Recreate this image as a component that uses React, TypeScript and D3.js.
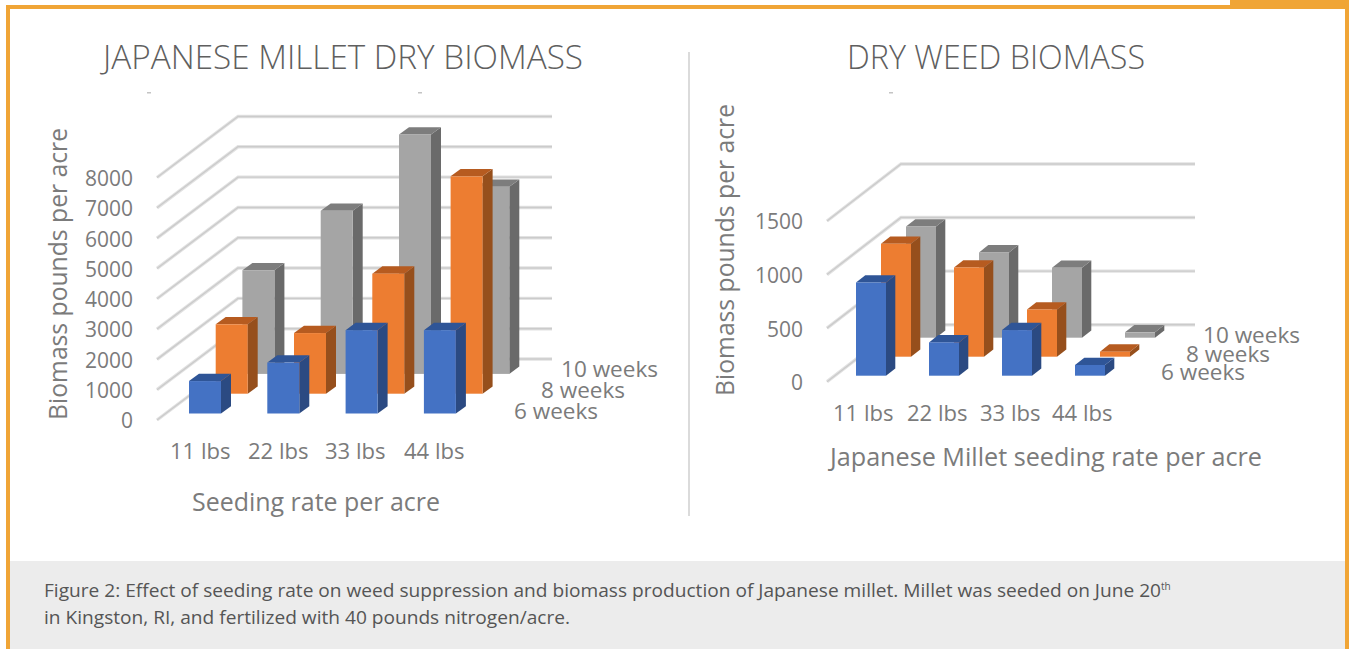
import * as d3 from 'd3';

const SERIES = ['6 weeks', '8 weeks', '10 weeks'];
const RATES = ['11 lbs', '22 lbs', '33 lbs', '44 lbs'];

const MILLET_6 = [1070, 1680, 2750, 2750];
const MILLET_8 = [2290, 2000, 3960, 7170];
const MILLET_10 = [3420, 5380, 7900, 6170];
const MILLET_TICKS = [0, 1000, 2000, 3000, 4000, 5000, 6000, 7000, 8000];

const WEED_6 = [870, 311, 426, 100];
const WEED_8 = [1054, 833, 441, 47];
const WEED_10 = [1038, 796, 653, 50];
const WEED_TICKS = [0, 500, 1000, 1500];

const CAPTION_1 = 'Figure 2: Effect of seeding rate on weed suppression and biomass production of Japanese millet. Millet was seeded on June 20';
const CAPTION_2 = 'in Kingston, RI, and fertilized with 40 pounds nitrogen/acre.';

const FACES = [
  { front: '#4472c4', side: '#2b4a82', top: '#2f5597' },
  { front: '#ed7d31', side: '#964f1c', top: '#b65b20' },
  { front: '#a5a5a5', side: '#6a6a6a', top: '#7d7d7d' },
];
const ORANGE = '#f0a536';
const TEXT = '#7b7b7b';
const FONT = '"Open Sans", sans-serif';

function Label({ x, y, w, size, children, anchor = 'start', rotate = false, fill = TEXT, weight = 400 }: any) {
  return (
    <text
      x={rotate ? 0 : x}
      y={rotate ? 0 : y + 2.5}
      transform={rotate ? `translate(${x + 2},${y}) rotate(-90)` : undefined}
      fontFamily={FONT}
      fontSize={size}
      fontWeight={weight}
      fill={fill}
      textAnchor={anchor}
      dominantBaseline="middle"
      textLength={w}
      lengthAdjust={w ? 'spacingAndGlyphs' : undefined}
    >
      {children}
    </text>
  );
}

function Chart3D({ values, ticks, geo }: { values: number[][]; ticks: number[]; geo: any }) {
  const gridY = d3.scaleLinear().domain([0, ticks[ticks.length - 1]]).range([geo.frontY0, geo.frontTop]);
  const perUnit = gridY(0) - gridY(1);
  const barX = d3.scalePoint<string>().domain(RATES).range([geo.barX0, geo.barX0 + 3 * geo.catStep]);
  const depth = d3.scalePoint<string>().domain(SERIES).range([0, 2]);
  const poly = (pts: number[][]) => pts.map((p) => p.join(',')).join(' ');

  // back series first so nearer bars paint over
  const order = d3.range(SERIES.length).reverse();

  return (
    <g>
      {ticks.map((t) => {
        const y = gridY(t);
        const pts = poly([[geo.frontX, y], [geo.frontX + geo.floorDx, y - geo.floorDy], [geo.gridEnd, y - geo.floorDy]]);
        return (
          <g key={t}>
            <polyline points={pts} fill="none" stroke="#e2e2e2" strokeWidth={3.4} />
            <polyline points={pts} fill="none" stroke="#cbcbcb" strokeWidth={1.4} />
            <Label x={geo.tickX} y={y + geo.tickShift} size={22} anchor="end" w={String(t).length * 12}>{t}</Label>
          </g>
        );
      })}
      {order.map((s) =>
        RATES.map((rate, c) => {
          const d = depth(SERIES[s])!;
          const x0 = barX(rate)! + d * geo.stepX;
          const x1 = x0 + geo.barW;
          const yb = geo.barY0 - d * geo.stepY;
          const yt = yb - values[s][c] * perUnit;
          const f = FACES[s];
          return (
            <g key={rate}>
              <polygon fill={f.side} points={poly([[x1, yt], [x1 + geo.sideX, yt - geo.sideY], [x1 + geo.sideX, yb - geo.sideY], [x1, yb]])} />
              <polygon fill={f.top} points={poly([[x0, yt], [x0 + geo.sideX, yt - geo.sideY], [x1 + geo.sideX, yt - geo.sideY], [x1, yt]])} />
              <rect x={x0} y={yt} width={geo.barW} height={yb - yt} fill={f.front} />
            </g>
          );
        })
      )}
      {RATES.map((rate, i) => (
        <Label key={rate} x={geo.rateX[i]} y={geo.rateY} size={22} w={60.5}>{rate}</Label>
      ))}
      {SERIES.map((name, i) => (
        <Label key={name} x={geo.seriesX[i]} y={geo.seriesY[i]} size={22} w={geo.seriesW[i]}>{name}</Label>
      ))}
      <Label x={geo.yTitleX} y={geo.yTitleY} size={25} w={292} rotate>Biomass pounds per acre</Label>
      <Label x={geo.xTitleX} y={geo.xTitleY} size={25} w={geo.xTitleW}>{geo.xTitle}</Label>
      <Label x={geo.titleX} y={58} size={33} w={geo.titleW} fill="#5f5f5f" weight={300}>{geo.title}</Label>
      {geo.specks.map((x: number) => (
        <rect key={x} x={x} y={92} width={4} height={1.5} fill="#c4c4c4" />
      ))}
    </g>
  );
}

const LEFT_GEO = {
  title: 'JAPANESE MILLET DRY BIOMASS', titleX: 103, titleW: 480,
  xTitle: 'Seeding rate per acre', xTitleX: 192, xTitleY: 502, xTitleW: 248,
  yTitleX: 58, yTitleY: 420,
  frontX: 157, frontY0: 420, frontTop: 177.5, floorDx: 81, floorDy: 61, gridEnd: 552,
  tickX: 133, tickShift: 0,
  barX0: 189, barY0: 413.5, barW: 32, catStep: 78.3, stepX: 26.7, stepY: 19.8, sideX: 10, sideY: 7.3,
  rateX: [170, 248, 325, 404], rateY: 451,
  seriesX: [514, 541, 561], seriesY: [411, 390, 369], seriesW: [84, 84, 97],
  specks: [147, 418],
};

const RIGHT_GEO = {
  title: 'DRY WEED BIOMASS', titleX: 847, titleW: 298,
  xTitle: 'Japanese Millet seeding rate per acre', xTitleX: 830, xTitleY: 457, xTitleW: 432,
  yTitleX: 725, yTitleY: 396,
  frontX: 827, frontY0: 381.7, frontTop: 221, floorDx: 74, floorDy: 57, gridEnd: 1195,
  tickX: 803, tickShift: 0,
  barX0: 856, barY0: 375.7, barW: 30, catStep: 73, stepX: 25, stepY: 19, sideX: 9.3, sideY: 7.3,
  rateX: [833, 907, 980, 1052], rateY: 413,
  seriesX: [1161, 1186, 1203], seriesY: [372, 354, 335], seriesW: [84, 84, 97],
  specks: [889],
};

export default function App() {
  return (
    <svg width={1353} height={649} style={{ position: 'absolute', left: 0, top: 0, display: 'block', background: '#fff' }}>
      <rect x={8} y={7} width={1339} height={642} fill="#fff" stroke={ORANGE} strokeWidth={4} />
      <rect x={1230} y={0} width={119} height={8} fill={ORANGE} />
      <rect x={10} y={561} width={1335} height={88} fill="#ececec" />
      <line x1={689} x2={689} y1={52} y2={516} stroke="#cfcfcf" strokeWidth={1.5} />

      <Chart3D values={[MILLET_6, MILLET_8, MILLET_10]} ticks={MILLET_TICKS} geo={LEFT_GEO} />
      <Chart3D values={[WEED_6, WEED_8, WEED_10]} ticks={WEED_TICKS} geo={RIGHT_GEO} />

      <Label x={44} y={590} size={18} w={1117} fill="#555">{CAPTION_1}</Label>
      <text x={1161} y={590} fontFamily={FONT} fontSize={10} fill="#555">th</text>
      <Label x={44} y={617} size={18} w={526} fill="#555">{CAPTION_2}</Label>
    </svg>
  );
}
